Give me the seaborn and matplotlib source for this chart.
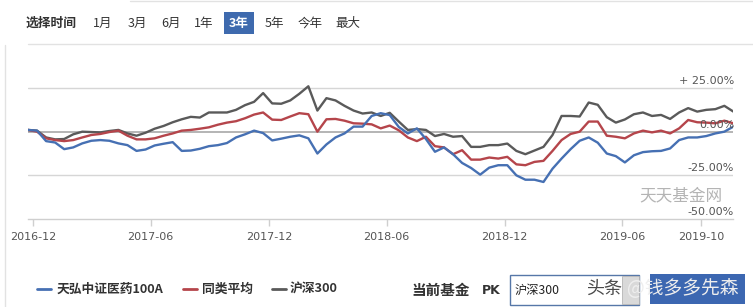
import numpy as np
import pandas as pd
import matplotlib
matplotlib.use('Agg')
import matplotlib.pyplot as plt
import seaborn as sns
from matplotlib.lines import Line2D
from matplotlib.patches import Rectangle

sns.set_theme(style='white')
plt.rcParams['font.family'] = ['Noto Sans CJK SC', 'DejaVu Sans']

# ---------------- data ----------------
dates = pd.date_range('2016-11-23', periods=79, freq='14D')

fund = [1.0, 0.6, -5.4, -6.2, -10.0, -9.0, -6.7, -5.2, -4.8, -5.2, -6.7, -7.7, -11.0, -10.2,
        -7.9, -6.9, -6.0, -11.0, -10.8, -9.8, -8.3, -7.7, -6.5, -3.3, -1.5, 0.6, -0.8,
        -5.0, -4.0, -2.9, -2.1, -3.8, -12.5, -7.3, -3.3, -1.0, 2.9, 2.9, 9.0, 10.6, 9.5,
        2.7, -1.0, 1.9, -4.2, -11.5, -9.0, -12.9, -17.9, -20.8, -24.6, -20.6, -19.2, -19.2,
        -25.0, -27.5, -27.5, -28.8, -21.2, -15.4, -10.0, -5.2, -3.3, -6.3, -12.5, -14.0, -17.6,
        -13.5, -11.7, -11.2, -11.0, -9.6, -4.8, -3.3, -3.3, -2.5, -1.0, 0.0, 2.9]

peer = [1.0, 0.0, -3.8, -4.8, -5.4, -4.8, -3.3, -1.9, -1.3, -0.2, 0.6, -2.3, -4.4, -4.4,
        -3.8, -2.3, -1.0, 0.6, 1.0, 1.7, 2.5, 4.0, 5.2, 6.0, 7.7, 9.8, 11.0,
        6.9, 6.7, 8.7, 10.6, 10.0, 0.0, 7.1, 7.3, 6.3, 4.8, 4.6, 4.2, 1.9, 3.5,
        0.8, -3.3, -5.4, -2.9, -8.3, -9.0, -12.9, -10.6, -16.0, -16.0, -14.8, -15.4, -14.4,
        -18.7, -19.2, -17.3, -16.7, -11.0, -4.8, -1.3, 0.0, 5.8, 5.8, -2.3, -2.9, -3.8,
        -1.0, 0.6, -0.4, 0.6, -1.0, 1.9, 6.7, 5.4, 5.2, 4.8, 6.3, 4.8]

hs300 = [1.0, 0.6, -3.3, -4.4, -4.2, -1.5, 0.0, -0.2, -0.4, 0.4, 1.0, -1.0, -2.3, -0.6,
         1.7, 3.3, 5.4, 7.1, 8.5, 8.1, 11.0, 11.0, 11.0, 12.5, 15.2, 17.1, 22.1,
         16.2, 16.0, 17.9, 21.7, 26.0, 12.1, 19.2, 17.9, 14.8, 12.1, 10.4, 11.0, 9.0, 10.8,
         5.8, 1.0, 1.5, 1.0, -2.5, -1.3, -2.9, -2.5, -8.7, -8.7, -7.7, -7.7, -6.8,
         -11.0, -12.9, -10.8, -8.7, -1.9, 9.0, 9.0, 8.7, 16.7, 15.4, 8.3, 5.2, 7.0,
         10.0, 11.0, 9.0, 9.6, 7.3, 11.0, 13.5, 11.5, 12.5, 12.9, 14.8, 11.5]

series_names = ['天弘中证医药100A', '同类平均', '沪深300']
colors = ['#4670b3', '#b5454b', '#5a5a5a']

tick_dates = ['2016-12-01', '2017-06-01', '2017-12-01', '2018-06-01',
              '2018-12-01', '2019-06-01', '2019-10-01']
tick_labels = ['2016-12', '2017-06', '2017-12', '2018-06', '2018-12', '2019-06', '2019-10']
y_levels = [25, 0, -25, -50]
y_labels = ['+ 25.00%', '0.00%', '-25.00%', '-50.00%']
periods = ['1月', '3月', '6月', '1年', '3年', '5年', '今年', '最大']
period_x = [103, 137, 171, 204, 239, 274, 310, 348]
selected = '3年'

df = pd.DataFrame({
    'date': np.tile(dates, 3),
    'value': np.concatenate([fund, peer, hs300]),
    'series': np.repeat(series_names, len(dates)),
})

# ---------------- figure ----------------
W, H = 753, 307
fig = plt.figure(figsize=(W / 100, H / 100), dpi=100)
fig.patch.set_facecolor('white')


def fx(x):
    return x / W


def fy(y):
    return 1 - y / H


ax = fig.add_axes([fx(28), fy(219), (733.4 - 28) / W, (219 - 79.3) / H])
ax.set_facecolor('white')

for lv in y_levels[:3]:
    ax.axhline(lv, color='#a8a8a8' if lv == 0 else '#d6d6d6', lw=1.2 if lv == 0 else 1.0, zorder=0)

sns.lineplot(data=df, x='date', y='value', hue='series', hue_order=series_names[::-1],
             palette=dict(zip(series_names, colors)), legend=False, ax=ax,
             linewidth=1.7, zorder=2)

ax.set_xlim(pd.Timestamp('2016-11-23'), dates[-1])
ax.set_ylim(-50, 30)
for s in ['top', 'right', 'left']:
    ax.spines[s].set_visible(False)
ax.spines['bottom'].set_color('#cfcfcf')
ax.spines['bottom'].set_linewidth(1.0)
ax.set_yticks([])
ax.set_xticks([pd.Timestamp(d) for d in tick_dates])
ax.set_xticklabels(tick_labels, fontfamily='DejaVu Sans')
ax.tick_params(axis='x', length=5, width=1, color='#cfcfcf', labelsize=8,
               labelcolor='#555555', pad=4, bottom=True)
ax.set_xlabel('')
ax.set_ylabel('')

for lv, lab in zip(y_levels, y_labels):
    ax.text(1.001, lv + 1.2, lab, transform=ax.get_yaxis_transform(), ha='right', va='bottom',
            fontsize=8, color='#555555', fontfamily='DejaVu Sans', zorder=5)

ax.text(0.985, -37, '天天基金网', transform=ax.get_yaxis_transform(), ha='right', va='center',
        fontsize=12, color='#b4b4b4', zorder=1)

# ---------------- frame lines ----------------
fig.add_artist(Line2D([fx(5), fx(5)], [fy(45), fy(307)], color='#e2e2e2', lw=1))
fig.add_artist(Line2D([fx(28), fx(753)], [fy(43.5), fy(43.5)], color='#e2e2e2', lw=1))
fig.add_artist(Line2D([fx(130), fx(753)], [fy(1), fy(1)], color='#e2e2e2', lw=1))

# ---------------- period selector ----------------
fig.text(fx(26), fy(23), '选择时间', fontsize=9.2, fontweight='bold', color='#333333',
         ha='left', va='center')
for p, px in zip(periods, period_x):
    if p == selected:
        fig.add_artist(Rectangle((fx(224), fy(34)), (254 - 224) / W, (34 - 12) / H,
                                 transform=fig.transFigure, facecolor='#3e6aae',
                                 edgecolor='none'))
        fig.text(fx(px), fy(23), p, fontsize=9, color='white', ha='center', va='center',
                 fontweight='bold')
    else:
        fig.text(fx(px), fy(23), p, fontsize=9, color='#333333', ha='center', va='center')

# ---------------- legend ----------------
leg_line_x = [37, 183, 272]
leg_text_x = [57, 202, 290]
for name, c, lx, tx in zip(series_names, colors, leg_line_x, leg_text_x):
    fig.add_artist(Line2D([fx(lx), fx(lx + 14)], [fy(289), fy(289)], color=c, lw=2))
    fig.text(fx(tx), fy(289), name, fontsize=9.2, fontweight='bold', color='#333333',
             ha='left', va='center')

# ---------------- PK box ----------------
fig.text(fx(411), fy(290), '当前基金', fontsize=10.5, fontweight='bold', color='#333333',
         ha='left', va='center')
fig.text(fx(482), fy(290), 'PK', fontsize=9, fontweight='bold', color='#333333',
         ha='left', va='center', fontfamily='DejaVu Sans')
fig.add_artist(Rectangle((fx(510), fy(305)), (639 - 510) / W, 30 / H, transform=fig.transFigure,
                         facecolor='white', edgecolor='#5677a8', lw=1))
fig.add_artist(Rectangle((fx(622), fy(304)), (638.5 - 622) / W, 28 / H, transform=fig.transFigure,
                         facecolor='#d9d9d9', edgecolor='#b5b5b5', lw=0.6))
fig.text(fx(515), fy(290), '沪深300', fontsize=8.8, color='#222222', ha='left', va='center')
fig.add_artist(Rectangle((fx(650), fy(304)), (745 - 650) / W, 30 / H, transform=fig.transFigure,
                         facecolor='#3c67b1', edgecolor='none'))
fig.text(fx(586), fy(289), '头条', fontsize=13, color='#4a4a4a', ha='left', va='center')
fig.text(fx(627), fy(289), '@钱多多先森', fontsize=13.5, color='#eeeeee', ha='left', va='center')

fig.savefig('out.png', dpi=100, facecolor='white')
